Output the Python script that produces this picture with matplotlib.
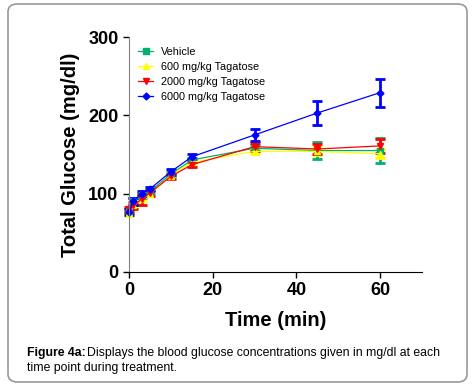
import matplotlib
matplotlib.use('Agg')
from matplotlib import pyplot as plt
from matplotlib.lines import Line2D
from matplotlib.patches import FancyBboxPatch

plt.rcParams['font.family'] = ['Liberation Sans', 'DejaVu Sans']

# time points (min)
times = [0, 1, 3, 5, 10, 15, 30, 45, 60]

vehicle = [78, 90, 98, 103, 125, 143, 158, 155, 155]
vehicle_err = [3, 4, 3, 3, 4, 3, 4, 11, 16]

t600 = [75, 85, 93, 100, 123, 140, 154, 154, 151]
t600_err = [3, 3, 3, 3, 3, 3, 4, 5, 6]

t2000 = [80, 85, 93, 101, 122, 137, 160, 157, 161]
t2000_err = [3, 4, 7, 4, 3, 3, 5, 7, 9]

t6000 = [77, 90, 100, 106, 128, 147, 175, 203, 229]
t6000_err = [4, 4, 3, 3, 4, 3, 8, 15, 18]

series = [
    ('Vehicle', vehicle, vehicle_err, '#00b070', 's'),
    ('600 mg/kg Tagatose', t600, t600_err, '#ffff00', '^'),
    ('2000 mg/kg Tagatose', t2000, t2000_err, '#ff0000', 'v'),
    ('6000 mg/kg Tagatose', t6000, t6000_err, '#0000ff', 'D'),
]

fig = plt.figure(figsize=(4.74, 3.9), dpi=100)
ax = fig.add_axes([0.2722, 0.3026, 0.618, 0.6025])

handles = []
for label, vals, errs, color, marker in series:
    ms = 4.5 if marker != 'D' else 3.5
    ax.errorbar(times, vals, yerr=errs, color=color, marker=marker,
                markersize=ms, linewidth=0.9,
                elinewidth=2, capsize=3.5, capthick=2, clip_on=False)
    handles.append(Line2D([], [], color=color, marker=marker, markersize=ms,
                          linewidth=0.9, label=label))

ax.set_xlim(0, 70)
ax.set_ylim(0, 300)
ax.set_xticks([0, 20, 40, 60])
ax.set_yticks([0, 100, 200, 300])
ax.spines['top'].set_visible(False)
ax.spines['right'].set_visible(False)
ax.spines['left'].set_color('#808080')
ax.spines['bottom'].set_color('black')
ax.tick_params(axis='both', which='major', labelsize=13, length=4, width=1)
for lbl in ax.get_xticklabels() + ax.get_yticklabels():
    lbl.set_fontweight('bold')

ax.set_xlabel('Time (min)', fontsize=14.5, fontweight='bold', labelpad=8)
ax.set_ylabel('Total Glucose (mg/dl)', fontsize=14.5, fontweight='bold', labelpad=6)

ax.legend(handles=handles, loc='upper left', bbox_to_anchor=(0.031, 0.958),
          frameon=False, fontsize=7.8, handlelength=1.4, handletextpad=0.75,
          labelspacing=0.45, borderaxespad=0, borderpad=0)

# caption
fig.text(27 / 474, 1 - 353 / 390, 'Figure 4a:', fontsize=8.8, fontweight='bold',
         va='center', ha='left')
fig.text(87 / 474, 1 - 353 / 390,
         'Displays the blood glucose concentrations given in mg/dl at each',
         fontsize=8.8, va='center', ha='left')
fig.text(27 / 474, 1 - 368 / 390, 'time point during treatment.', fontsize=8.8,
         va='center', ha='left')

# rounded frame round the figure
frame = FancyBboxPatch((8 / 474, 8 / 390), 459 / 474, 378 / 390,
                       boxstyle='round,pad=0,rounding_size=0.02',
                       transform=fig.transFigure, fill=False,
                       edgecolor='#999999', linewidth=1.2)
fig.patches.append(frame)

fig.savefig('out.png', dpi=100)
